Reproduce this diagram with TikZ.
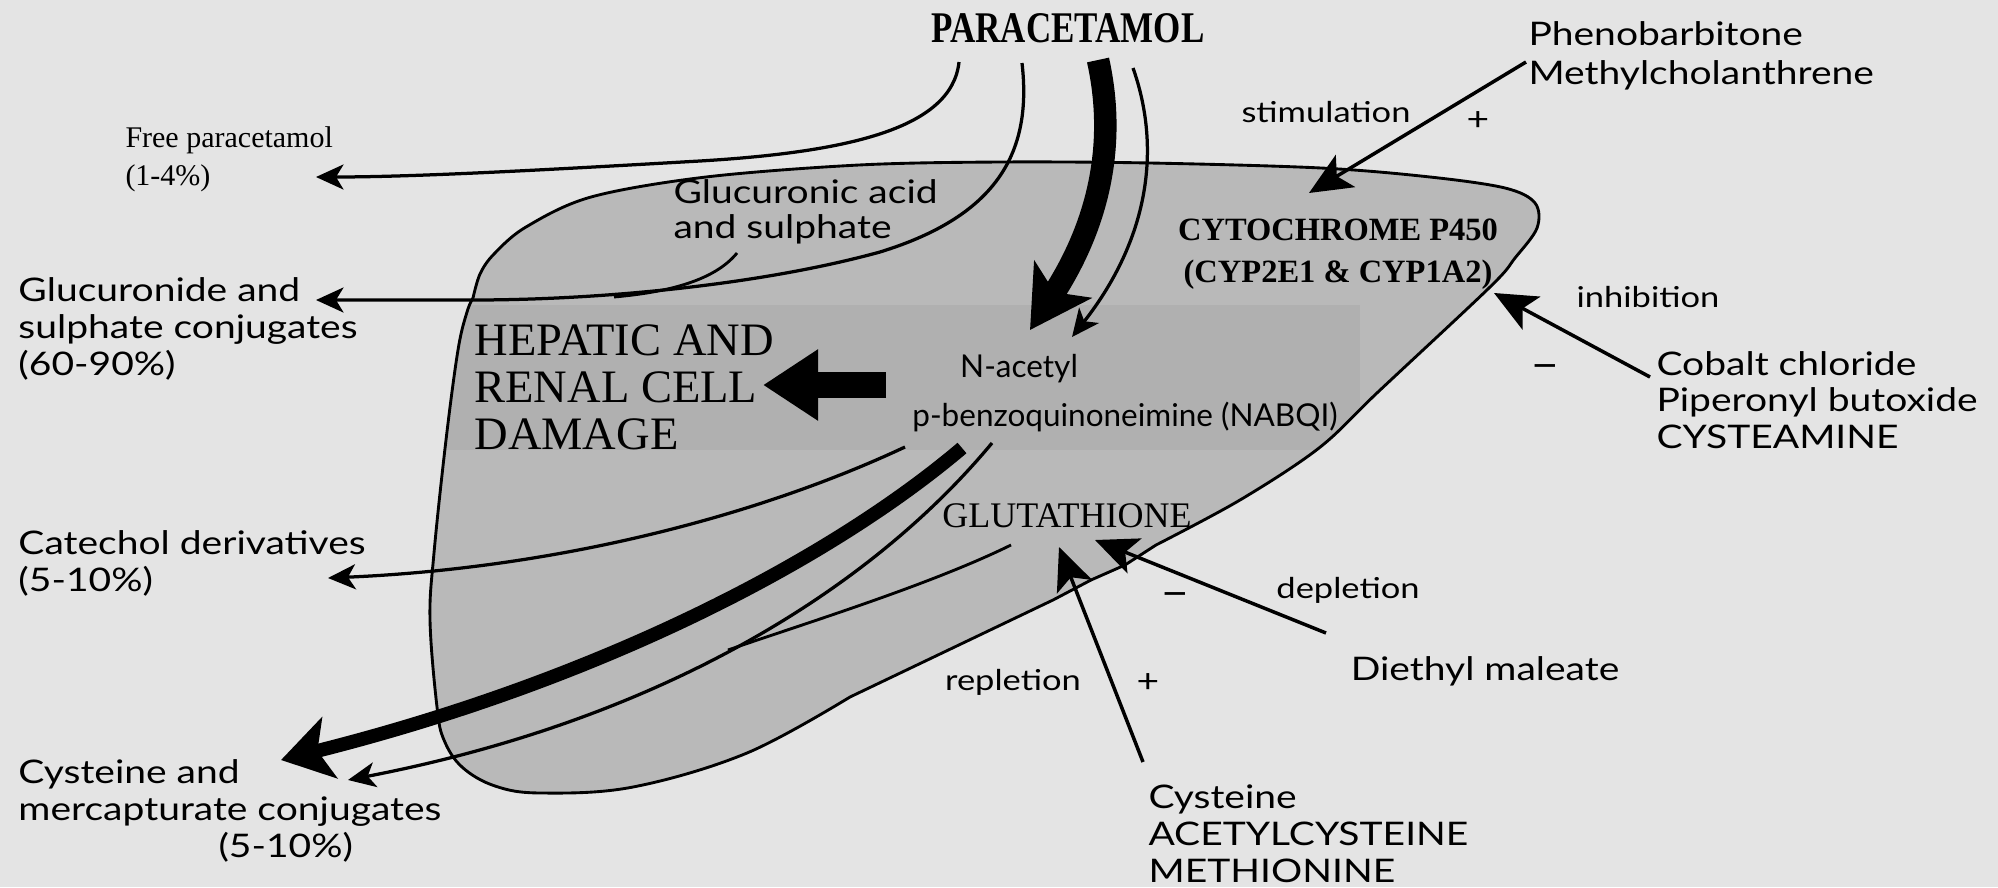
\documentclass[tikz,border=0pt]{standalone}
\usepackage{fontspec}
\usetikzlibrary{arrows.meta}
\newfontfamily\opt[FakeStretch=1.2]{Lato}
\newfontfamily\optn{Lato}
\newfontfamily\ser{Liberation Serif}
\newfontfamily\pcfont[FakeStretch=0.8]{Liberation Serif}
\definecolor{bgc}{gray}{0.895}
\definecolor{blobc}{gray}{0.725}
\definecolor{bandc}{gray}{0.69}
\begin{document}
\begin{tikzpicture}[x=0.4pt,y=-0.4pt,
  lab/.style={inner sep=0pt, align=left, font=\opt\fontsize{13}{14.8}\selectfont},
  smalllab/.style={inner sep=0pt, font=\opt\fontsize{11.5}{13}\selectfont},
  sign/.style={inner sep=0pt, font=\opt\fontsize{13}{14}\selectfont},
  minussign/.style={inner sep=0pt, font=\opt\fontsize{17}{18}\selectfont},
  outline/.style={line width=1.15pt},
  thinarr/.style={line width=1.3pt, -{Stealth[length=11pt,width=10pt,inset=3pt]}},
  regarr/.style={line width=1.4pt, -{Stealth[length=17pt,width=15pt,inset=4pt]}},
  fatarr/.style={line width=9pt, -{Stealth[length=24pt,width=27pt,inset=6pt]}},
  medarr/.style={line width=5.5pt, -{Stealth[length=20pt,width=25pt,inset=5pt]}},
  blockarr/.style={line width=10.4pt, -{Triangle[length=22pt,width=27pt]}}
]
\useasboundingbox (0,0) rectangle (1998,887);
\fill[bgc] (0,0) rectangle (1998,887);

\def\blobpath{(473,298) -- plot[smooth, tension=0.55] coordinates {(473,298) (480,274) (494,254) (526,227) (591,197) (706,177) (859,165) (1000,162) (1150,163) (1321,168) (1430,177) (1505,188) (1535,203) (1537,228) (1515,258) (1490,287) (1378,392) (1319,448) (1240,500) (1156,545)} -- (1125,565) -- (1091,580) -- (1053,600) -- (850,697) -- plot[smooth, tension=0.6] coordinates {(850,697) (747,753) (633,787) (541,793) (495,786) (462,767) (444,740) (437,707) (430,620) (434,553) (446,440) (458,350) (467,312) (473,298)} -- cycle}

\fill[blobc] \blobpath;
\begin{scope}
  \clip \blobpath;
  \fill[bandc] (400,305) rectangle (1360,450);
\end{scope}
\draw[outline] \blobpath;

% coordinates
\coordinate (fp0) at (959,62);
\coordinate (fp1) at (316,177);
\coordinate (gl0) at (1022,63);
\coordinate (gltip) at (473,300);
\coordinate (gl1) at (316,300);
\coordinate (in0) at (737,253);
\coordinate (in1) at (614,297);
\coordinate (fa0) at (1098,60);
\coordinate (fa1) at (1030,330);
\coordinate (ta0) at (1133,68);
\coordinate (ta1) at (1072,337);
\coordinate (bk0) at (886,385);
\coordinate (bk1) at (763,385);
\coordinate (ca0) at (905,447);
\coordinate (ca1) at (328,578);
\coordinate (ma0) at (962,448);
\coordinate (ma1) at (281,760);
\coordinate (tc0) at (992,443);
\coordinate (tcm) at (728,650);
\coordinate (tc1) at (348,780);
\coordinate (gs0) at (1011,545);
\coordinate (st0) at (1526,62);
\coordinate (st1) at (1309,193);
\coordinate (ih0) at (1650,377);
\coordinate (ih1) at (1494,293);
\coordinate (rp0) at (1143,762);
\coordinate (rp1) at (1059,547);
\coordinate (dp0) at (1326,633);
\coordinate (dp1) at (1095,540);

% connectors
\draw[thinarr] (fp0) .. controls (952,128) and (850,152) .. (700,161) .. controls (560,169) and (420,177) .. (fp1);
\draw[thinarr] (gl0) .. controls (1032,150) and (1000,215) .. (880,252) .. controls (760,285) and (600,300) .. (gltip) -- (gl1);
\draw[outline] (in0) .. controls (715,280) and (670,292) .. (in1);
\draw[fatarr] (fa0) .. controls (1118,150) and (1095,230) .. (fa1);
\draw[thinarr] (ta0) .. controls (1162,150) and (1148,240) .. (ta1);
\draw[blockarr] (bk0) -- (bk1);
\draw[thinarr] (ca0) .. controls (760,515) and (560,568) .. (ca1);
\draw[medarr] (ma0) .. controls (830,560) and (600,680) .. (ma1);
\draw[thinarr] (tc0) .. controls (870,590) and (660,720) .. (tc1);
\draw[outline] (gs0) .. controls (930,585) and (800,625) .. (tcm);
\draw[regarr] (st0) -- (st1);
\draw[regarr] (ih0) -- (ih1);
\draw[regarr] (rp0) -- (rp1);
\draw[regarr] (dp0) -- (dp1);

% texts
\node[inner sep=0pt, font=\pcfont\bfseries\fontsize{17.5}{20}\selectfont] (para) at (1068,28) {PARACETAMOL};
\node[inner sep=0pt, anchor=west, align=left, font=\ser\fontsize{12}{15.2}\selectfont] (free) at (125,159) {Free paracetamol\\(1-4\%)};
\node[lab, anchor=west, font=\opt\fontsize{13}{14}\selectfont] (gluc) at (673,212) {Glucuronic acid\\and sulphate};
\node[lab, anchor=west] (glucc) at (18,329) {Glucuronide and\\sulphate conjugates\\(60-90\%)};
\node[inner sep=0pt, anchor=west, align=left, font=\ser\fontsize{18.6}{18.8}\selectfont] (hep) at (474,387) {HEPATIC AND\\RENAL CELL\\DAMAGE};
\node[inner sep=0pt, font=\optn\fontsize{12.6}{15}\selectfont] (nac) at (1019,369) {N-acetyl};
\node[inner sep=0pt, font=\optn\fontsize{12.6}{15}\selectfont] (nabqi) at (1125,417) {p-benzoquinoneimine (NABQI)};
\node[inner sep=0pt, align=center, font=\ser\bfseries\fontsize{13}{16.8}\selectfont] (cyp) at (1338,254) {CYTOCHROME P450\\(CYP2E1 \& CYP1A2)};
\node[smalllab] (stim) at (1326,112) {stimulation};
\node[sign] (plus1) at (1478,121) {+};
\node[lab, anchor=west, font=\opt\fontsize{13}{15.6}\selectfont] (pheno) at (1528,56) {Phenobarbitone\\Methylcholanthrene};
\node[smalllab] (inh) at (1648,297) {inhibition};
\node[minussign] (minus1) at (1545,372) {–};
\node[lab, anchor=west, font=\opt\fontsize{13}{14.6}\selectfont] (cobalt) at (1656,400) {Cobalt chloride\\Piperonyl butoxide\\CYSTEAMINE};
\node[inner sep=0pt, font=\ser\fontsize{14.4}{16}\selectfont] (glut) at (1067,516) {GLUTATHIONE};
\node[smalllab] (depl) at (1348,590) {depletion};
\node[minussign] (minus2) at (1175,600) {–};
\node[smalllab] (repl) at (1013,682) {repletion};
\node[sign] (plus2) at (1148,683) {+};
\node[lab] (diethyl) at (1485,671) {Diethyl maleate};
\node[lab, anchor=west] (cyst) at (1148,834) {Cysteine\\ACETYLCYSTEINE\\METHIONINE};
\node[lab, anchor=west] (catechol) at (18,563) {Catechol derivatives\\(5-10\%)};
\node[lab, anchor=west] (merc) at (18,811) {Cysteine and\\mercapturate conjugates\\\hspace*{80pt}(5-10\%)};
\end{tikzpicture}
\end{document}
